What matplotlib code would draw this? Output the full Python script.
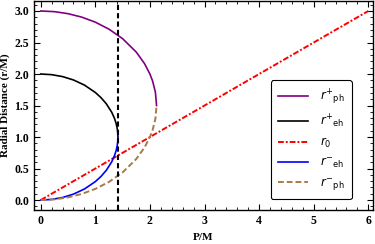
import matplotlib
matplotlib.use("Agg")
import matplotlib.pyplot as plt
from matplotlib.ticker import MultipleLocator

# Data
p_ph = [0.0, 0.25, 0.5, 0.75, 1.0, 1.25, 1.5, 1.75, 1.9, 2.0, 2.05, 2.1, 2.1213]
r_ph_plus = [3.0, 2.9896, 2.9577, 2.9031, 2.8229, 2.7119, 2.5607, 2.3478, 2.1671, 2.0, 1.8857, 1.7121, 1.5]
r_ph_minus = [0.0, 0.0104, 0.0423, 0.0969, 0.1771, 0.2881, 0.4393, 0.6522, 0.8329, 1.0, 1.1143, 1.2879, 1.5]

p_eh = [0.0, 0.2, 0.4, 0.6, 0.8, 1.0, 1.1, 1.2, 1.3, 1.35, 1.38, 1.4, 1.41, 1.4142]
r_eh_plus = [2.0, 1.9899, 1.9592, 1.9055, 1.8246, 1.7071, 1.6285, 1.5292, 1.3937, 1.2979, 1.2186, 1.1414, 1.0771, 1.0]
r_eh_minus = [0.0, 0.0101, 0.0408, 0.0945, 0.1754, 0.2929, 0.3715, 0.4708, 0.6063, 0.7021, 0.7814, 0.8586, 0.9229, 1.0]

p_r0 = [0.0, 6.0]
r_0 = [0.0, 3.0]

p_vline = 1.4142

fig = plt.figure(figsize=(3.75, 2.44), dpi=100)
ax = fig.add_axes([0.0907, 0.139, 0.904, 0.857])

ax.plot(p_ph, r_ph_plus, color="#800080", lw=1.2, label=r"$r^{+}{}_{\rm ph}$")
ax.plot(p_eh, r_eh_plus, color="black", lw=1.2, label=r"$r^{+}{}_{\rm eh}$")
ax.plot(p_r0, r_0, color="red", lw=1.4, linestyle=(0, (3, 1, 1, 1)), label=r"$r_0$")
ax.plot(p_eh, r_eh_minus, color="blue", lw=1.2, label=r"$r^{-}{}_{\rm eh}$")
ax.plot(p_ph, r_ph_minus, color="#a87a48", lw=1.4, linestyle=(0, (3, 1.5)), label=r"$r^{-}{}_{\rm ph}$")
ax.axvline(p_vline, color="black", lw=1.5, linestyle=(0, (2.5, 1.5)))

ax.set_xlim(-0.123, 6.086)
ax.set_ylim(-0.159, 3.159)

ax.xaxis.set_major_locator(MultipleLocator(1))
ax.xaxis.set_minor_locator(MultipleLocator(0.2))
ax.yaxis.set_major_locator(MultipleLocator(0.5))
ax.yaxis.set_minor_locator(MultipleLocator(0.1))
ax.tick_params(which="both", direction="in", top=True, right=True)
ax.tick_params(which="major", length=4, width=0.8)
ax.tick_params(which="minor", length=2, width=0.6)

xt = [0, 1, 2, 3, 4, 5, 6]
yt = [0.0, 0.5, 1.0, 1.5, 2.0, 2.5, 3.0]
ax.set_xticks(xt)
ax.set_xticklabels([str(v) for v in xt], fontfamily="Liberation Serif", fontweight="bold", fontsize=8.5)
ax.set_yticks(yt)
ax.set_yticklabels([f"{v:.1f}" for v in yt], fontfamily="Liberation Serif", fontweight="bold", fontsize=8.5)

ax.set_xlabel("P/M", fontfamily="Liberation Serif", fontweight="bold", fontsize=8, labelpad=4)
ax.set_ylabel("Radial Distance (r/M)", fontfamily="Liberation Serif", fontweight="bold", fontsize=8, labelpad=3)

for s in ax.spines.values():
    s.set_linewidth(1.0)

leg = ax.legend(loc="lower right", bbox_to_anchor=(0.955, 0.025), fontsize=8.5,
                frameon=True, fancybox=True, edgecolor="black", framealpha=1,
                handlelength=2.6, labelspacing=0.5, borderpad=0.6, handletextpad=1.0)
leg.get_frame().set_linewidth(0.8)

fig.savefig("out.png", dpi=100)
